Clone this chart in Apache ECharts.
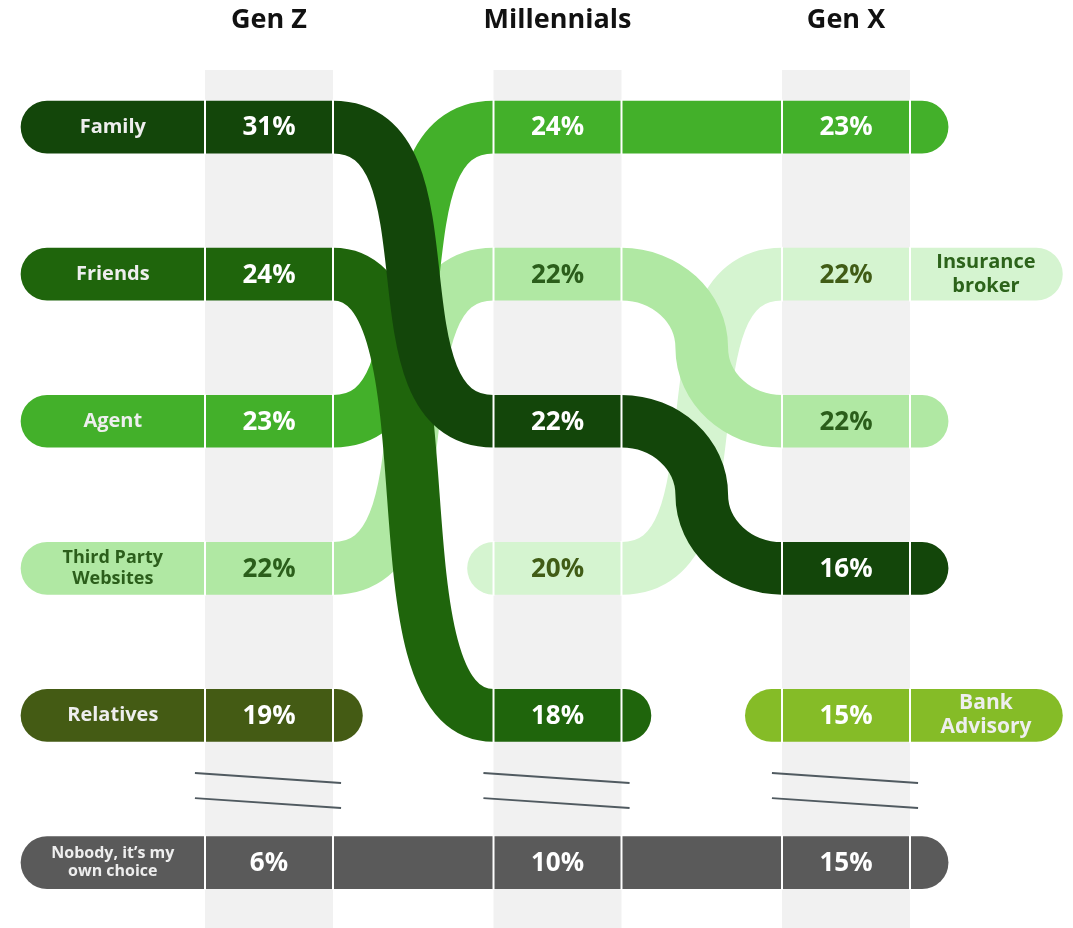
<!DOCTYPE html>
<html>
<head>
<meta charset="utf-8">
<script src="https://cdn.jsdelivr.net/npm/echarts@6/dist/echarts.min.js"></script>
<style>
  html, body { margin: 0; padding: 0; background: #ffffff; }
  #chart { width: 1073px; height: 928px; }
</style>
</head>
<body>
<div id="chart"></div>
<script>
// ---- data -------------------------------------------------------------
const GENERATIONS = ['Gen Z', 'Millennials', 'Gen X'];
const SOURCES = ['Family', 'Friends', 'Agent', 'Third Party\nWebsites', 'Relatives',
                 'Insurance\nbroker', 'Bank\nAdvisory', 'Nobody, it\u2019s my\nown choice'];

// share of respondents (%) naming each source, per generation (null = not listed)
const SHARE_GEN_Z       = [31, 24, 23, 22, 19, null, null, 6];
const SHARE_MILLENNIALS = [22, 18, 24, 22, null, 20, null, 10];
const SHARE_GEN_X       = [16, null, 23, 22, null, 22, 15, 15];

// row (rank) each source holds in a generation's column; row 6 sits below the break
const ROW_GEN_Z       = [1, 2, 3, 4, 5, null, null, 6];
const ROW_MILLENNIALS = [3, 5, 1, 2, null, 4, null, 6];
const ROW_GEN_X       = [4, null, 1, 3, null, 2, 5, 6];

// where the source name box is drawn
const LABEL_SIDE = ['left', 'left', 'left', 'left', 'left', 'right', 'right', 'left'];

// ---- look -------------------------------------------------------------
const RIBBON_COLORS = ['#13460a', '#1f650c', '#43b02a', '#b0e8a3', '#445b14', '#d5f4d0', '#85bc27', '#5a5a5a'];
const PCT_COLORS    = ['#ffffff', '#ffffff', '#ffffff', '#2b5e1b', '#ffffff', '#415c16', '#ffffff', '#ffffff'];
const NAME_COLORS   = ['#eeeeee', '#eeeeee', '#eeeeee', '#2b5e1b', '#eeeeee', '#2c631a', '#eeeeee', '#eeeeee'];
const NAME_SIZE     = [20, 20, 20, 18, 20, 20, 21, 16];
const NAME_LINE     = [24, 24, 24, 21, 24, 24, 24, 18];
// paint order: pale ribbons underneath, dark ones on top
const DRAW_ORDER = [5, 3, 2, 1, 0, 4, 6, 7];

const SHARES = [SHARE_GEN_Z, SHARE_MILLENNIALS, SHARE_GEN_X];
const ROWS = [ROW_GEN_Z, ROW_MILLENNIALS, ROW_GEN_X];

// layout in axis units (x: one unit per generation column, y: one unit per row)
const X_MIN = -0.9324, X_MAX = 2.7868;
const Y_MIN = 0.1363, Y_MAX = 6.4449;
const HALF_BAND = 0.2218;
const BAR_THICKNESS = 0.358;
const BAND_TOP = 0.612;
const HEADER_ROW = 0.272;
const LEFT_BOX_START = -0.7695, LEFT_LABEL_X = -0.5414;
const RIGHT_BOX_END = 2.660, RIGHT_LABEL_X = 2.485;
const END_PAD = [0.012, 0.012, 0.042];
const START_PAD = [0, 0, 0.037];
// one-row steps bend as two quarter ellipses; longer drops use one soft S curve
const PULL_LONG = 0.8;
const KAPPA = 0.5523;
const BREAK_ROWS = [[5.391, 5.459], [5.562, 5.629]];
const BREAK_LEFT = 0.035, BREAK_RIGHT = 0.028;
const FONT = '"Open Sans", "Noto Sans", sans-serif';

function colsOf(s) {
  return [0, 1, 2].filter(c => ROWS[c][s] != null);
}

// ---- render helpers ---------------------------------------------------
function bandItem(params, api) {
  const c = api.value(0);
  const a = api.coord([c - HALF_BAND, BAND_TOP]);
  const b = api.coord([c + HALF_BAND, Y_MAX]);
  return {
    type: 'rect',
    shape: { x: a[0], y: a[1], width: b[0] - a[0], height: b[1] - a[1] },
    style: { fill: '#f1f1f1' }
  };
}

function headerItem(params, api) {
  const c = api.value(0);
  const p = api.coord([c, HEADER_ROW]);
  return {
    type: 'text', x: p[0], y: p[1],
    style: {
      text: GENERATIONS[c], fill: '#111111', fontSize: 27, fontWeight: 'bold',
      fontFamily: FONT, align: 'center', verticalAlign: 'middle'
    }
  };
}

// path commands joining the end of one bar (a) to the start of the next (b)
function connector(a, b, rowStep) {
  const dx = b[0] - a[0];
  if (Math.abs(rowStep) <= 1) {
    const rx = dx / 2, ry = (b[1] - a[1]) / 2;
    const mx = a[0] + rx, my = a[1] + ry;
    return ' C' + (a[0] + KAPPA * rx) + ',' + a[1] + ' ' + mx + ',' + (my - KAPPA * ry) + ' ' + mx + ',' + my +
           ' C' + mx + ',' + (my + KAPPA * ry) + ' ' + (b[0] - KAPPA * rx) + ',' + b[1] + ' ' + b[0] + ',' + b[1];
  }
  const k = PULL_LONG * dx;
  return ' C' + (a[0] + k) + ',' + a[1] + ' ' + (b[0] - k) + ',' + b[1] + ' ' + b[0] + ',' + b[1];
}

function ribbonItem(params, api) {
  const s = api.value(0);
  const cols = colsOf(s);
  const first = cols[0], last = cols[cols.length - 1];
  const startX = LABEL_SIDE[s] === 'left' ? LEFT_BOX_START : first - HALF_BAND - START_PAD[first];
  const endX = LABEL_SIDE[s] === 'right' ? RIGHT_BOX_END : last + HALF_BAND + END_PAD[last];
  const p0 = api.coord([startX, ROWS[first][s]]);
  let d = 'M' + p0[0] + ',' + p0[1];
  cols.forEach((c, i) => {
    const a = api.coord([c + HALF_BAND, ROWS[c][s]]);
    d += ' L' + a[0] + ',' + a[1];
    const n = cols[i + 1];
    if (n != null) {
      const b = api.coord([n - HALF_BAND, ROWS[n][s]]);
      d += connector(a, b, ROWS[n][s] - ROWS[c][s]);
    }
  });
  const pe = api.coord([endX, ROWS[last][s]]);
  d += ' L' + pe[0] + ',' + pe[1];
  return {
    type: 'path',
    shape: { pathData: d },
    style: {
      fill: 'none', stroke: RIBBON_COLORS[s],
      lineWidth: api.size([0, BAR_THICKNESS])[1],
      lineCap: 'round', lineJoin: 'round'
    }
  };
}

function separatorItem(params, api) {
  const c = api.value(0), r = api.value(1);
  const children = [-1, 1].map(side => {
    const top = api.coord([c + side * HALF_BAND, r - BAR_THICKNESS / 2]);
    const bot = api.coord([c + side * HALF_BAND, r + BAR_THICKNESS / 2]);
    return {
      type: 'line',
      shape: { x1: top[0], y1: top[1] - 1, x2: bot[0], y2: bot[1] + 1 },
      style: { stroke: '#ffffff', lineWidth: 2 }
    };
  });
  return { type: 'group', children };
}

function breakItem(params, api) {
  const c = api.value(0);
  const children = BREAK_ROWS.map(([r1, r2]) => {
    const a = api.coord([c - HALF_BAND - BREAK_LEFT, r1]);
    const b = api.coord([c + HALF_BAND + BREAK_RIGHT, r2]);
    return {
      type: 'line',
      shape: { x1: a[0], y1: a[1], x2: b[0], y2: b[1] },
      style: { stroke: '#505a60', lineWidth: 2 }
    };
  });
  return { type: 'group', children };
}

function pctItem(params, api) {
  const c = api.value(0), r = api.value(1), v = api.value(2), s = api.value(3);
  const p = api.coord([c, r]);
  return {
    type: 'text', x: p[0], y: p[1] + 1,
    style: {
      text: v + '%', fill: PCT_COLORS[s], fontSize: 26, fontWeight: 'bold',
      fontFamily: FONT, align: 'center', verticalAlign: 'middle'
    }
  };
}

function nameItem(params, api) {
  const x = api.value(0), r = api.value(1), s = api.value(2);
  const p = api.coord([x, r]);
  return {
    type: 'text', x: p[0], y: p[1],
    style: {
      text: SOURCES[s], fill: NAME_COLORS[s], fontSize: NAME_SIZE[s], fontWeight: 'bold',
      lineHeight: NAME_LINE[s], fontFamily: FONT, align: 'center', verticalAlign: 'middle'
    }
  };
}

// ---- series data built from the arrays above --------------------------
const cellData = [];
SOURCES.forEach((name, s) => {
  colsOf(s).forEach(c => cellData.push([c, ROWS[c][s], SHARES[c][s], s]));
});
const nameData = SOURCES.map((name, s) => {
  const cols = colsOf(s);
  return LABEL_SIDE[s] === 'left'
    ? [LEFT_LABEL_X, ROWS[cols[0]][s], s]
    : [RIGHT_LABEL_X, ROWS[cols[cols.length - 1]][s], s];
});
const columnData = GENERATIONS.map((g, c) => [c]);

const chart = echarts.init(document.getElementById('chart'), null, { renderer: 'canvas' });
chart.setOption({
  backgroundColor: '#ffffff',
  animation: false,
  grid: { left: 0, right: 0, top: 0, bottom: 0 },
  xAxis: { type: 'value', min: X_MIN, max: X_MAX, show: false },
  yAxis: { type: 'value', min: Y_MIN, max: Y_MAX, inverse: true, show: false },
  series: [
    { type: 'custom', name: 'bands', renderItem: bandItem, data: columnData, silent: true, z: 1 },
    { type: 'custom', name: 'headers', renderItem: headerItem, data: columnData, silent: true, z: 2 },
    { type: 'custom', name: 'ribbons', renderItem: ribbonItem, data: DRAW_ORDER.map(s => [s]), silent: true, z: 3 },
    { type: 'custom', name: 'separators', renderItem: separatorItem, data: cellData, silent: true, z: 4 },
    { type: 'custom', name: 'breaks', renderItem: breakItem, data: columnData, silent: true, z: 4 },
    { type: 'custom', name: 'shares', renderItem: pctItem, data: cellData, silent: true, z: 5 },
    { type: 'custom', name: 'sources', renderItem: nameItem, data: nameData, silent: true, z: 5 }
  ]
});
</script>
</body>
</html>
